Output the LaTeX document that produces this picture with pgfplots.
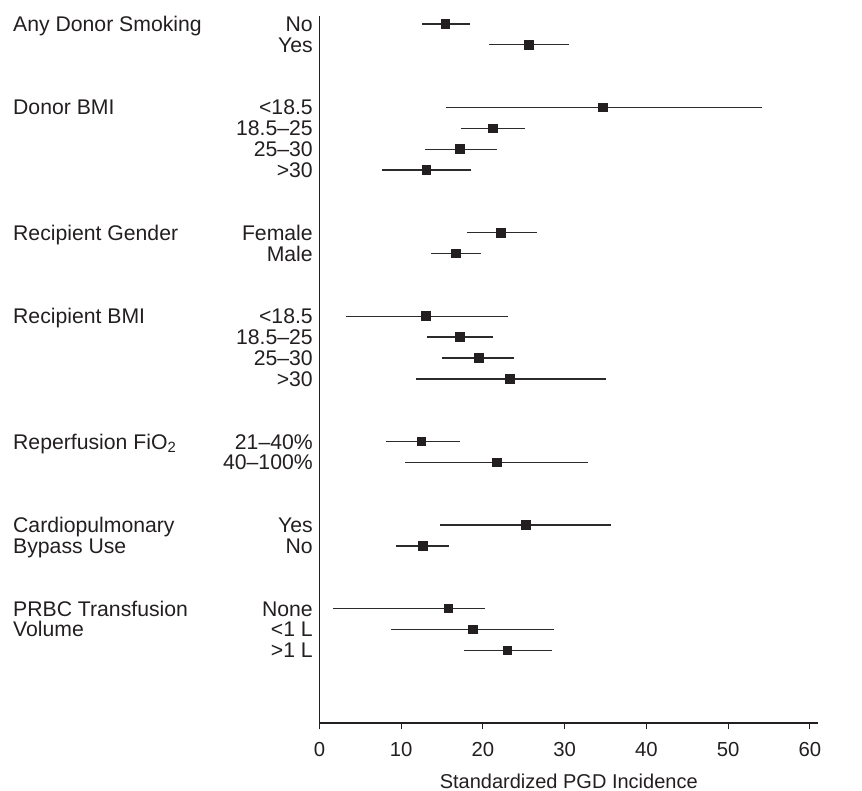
\documentclass[border=0pt]{standalone}
\usepackage{fontspec}
\setmainfont{Liberation Sans}
\usepackage{pgfplots}
\pgfplotsset{compat=1.18}
\usepackage{pgfplotstable}
\definecolor{ink}{HTML}{231F20}
\definecolor{bar}{HTML}{2B2B2B}
\pgfplotstableread{
y x lo hi
0 15.4 12.5 18.4
-1 25.6 20.8 30.5
-4 34.7 15.5 54.2
-5 21.2 17.3 25.2
-6 17.2 12.9 21.7
-7 13.1 7.7 18.6
-10 22.2 18.0 26.6
-11 16.7 13.6 19.8
-14 13.0 3.2 23.1
-15 17.2 13.1 21.2
-16 19.5 15.0 23.8
-17 23.3 11.8 35.1
-20 12.5 8.1 17.2
-21 21.7 10.5 32.8
-24 25.3 14.7 35.7
-25 12.7 9.4 15.9
-28 15.8 1.6 20.2
-29 18.8 8.8 28.7
-30 23.0 17.7 28.4
}\datatable
\begin{document}
\fontsize{21.2bp}{24bp}\selectfont
\begin{tikzpicture}
\useasboundingbox (-319.5bp,-68bp) rectangle (542.5bp,723bp);
\begin{axis}[
  at={(0,0)}, anchor=south west,
  scale only axis, width=498.5bp, height=707bp,
  xmin=0, xmax=61, ymin=-33.48, ymax=0.38,
  axis lines=left,
  axis line style={ink, line width=1.1bp, -},
  tick align=outside,
  major tick length=6bp,
  xtick={0,10,20,30,40,50,60},
  xtick style={ink, line width=1.1bp},
  ytick={0,-1,-4,-5,-6,-7,-10,-11,-14,-15,-16,-17,-20,-21,-24,-25,-28,-29,-30},
  yticklabels={No,Yes,<18.5,18.5--25,25--30,>30,Female,Male,<18.5,18.5--25,25--30,>30,21--40\%,40--100\%,Yes,No,None,<1 L,>1 L},
  ytick style={draw=none},
  yticklabel style={anchor=base east, xshift=6.5bp, yshift=-7.5bp, font=\fontsize{21.2bp}{24bp}\selectfont, text=ink},
  xticklabel style={font=\fontsize{20.3bp}{24bp}\selectfont, text=ink, yshift=-6bp},
  /pgf/number format/assume math mode=true,
  xlabel={Standardized PGD Incidence},
  every axis x label/.style={at={(axis description cs:0.5,0)}, anchor=center, yshift=-58bp, font=\fontsize{20bp}{24bp}\selectfont, text=ink},
  clip=false,
]
\addplot[only marks, mark=square*, mark size=4.3bp, mark options={fill=ink, draw=ink, line width=0pt},
  error bars/.cd, x dir=both, x explicit, error mark=none,
  error bar style={bar, line width=1.3bp}]
  table[x=x, y=y, x error plus expr=\thisrow{hi}-\thisrow{x}, x error minus expr=\thisrow{x}-\thisrow{lo}] {\datatable};
\begin{scope}[every node/.style={anchor=base west, xshift=-306.5bp, yshift=-7.5bp, inner sep=0pt, text=ink}]
\node at (axis cs:0,0) {Any Donor Smoking};
\node at (axis cs:0,-4) {Donor BMI};
\node at (axis cs:0,-10) {Recipient Gender};
\node at (axis cs:0,-14) {Recipient BMI};
\node at (axis cs:0,-20) {Reperfusion FiO\textsubscript{2}};
\node at (axis cs:0,-24) {Cardiopulmonary};
\node at (axis cs:0,-25) {Bypass Use};
\node at (axis cs:0,-28) {PRBC Transfusion};
\node at (axis cs:0,-29) {Volume};
\end{scope}
\end{axis}
\end{tikzpicture}
\end{document}
